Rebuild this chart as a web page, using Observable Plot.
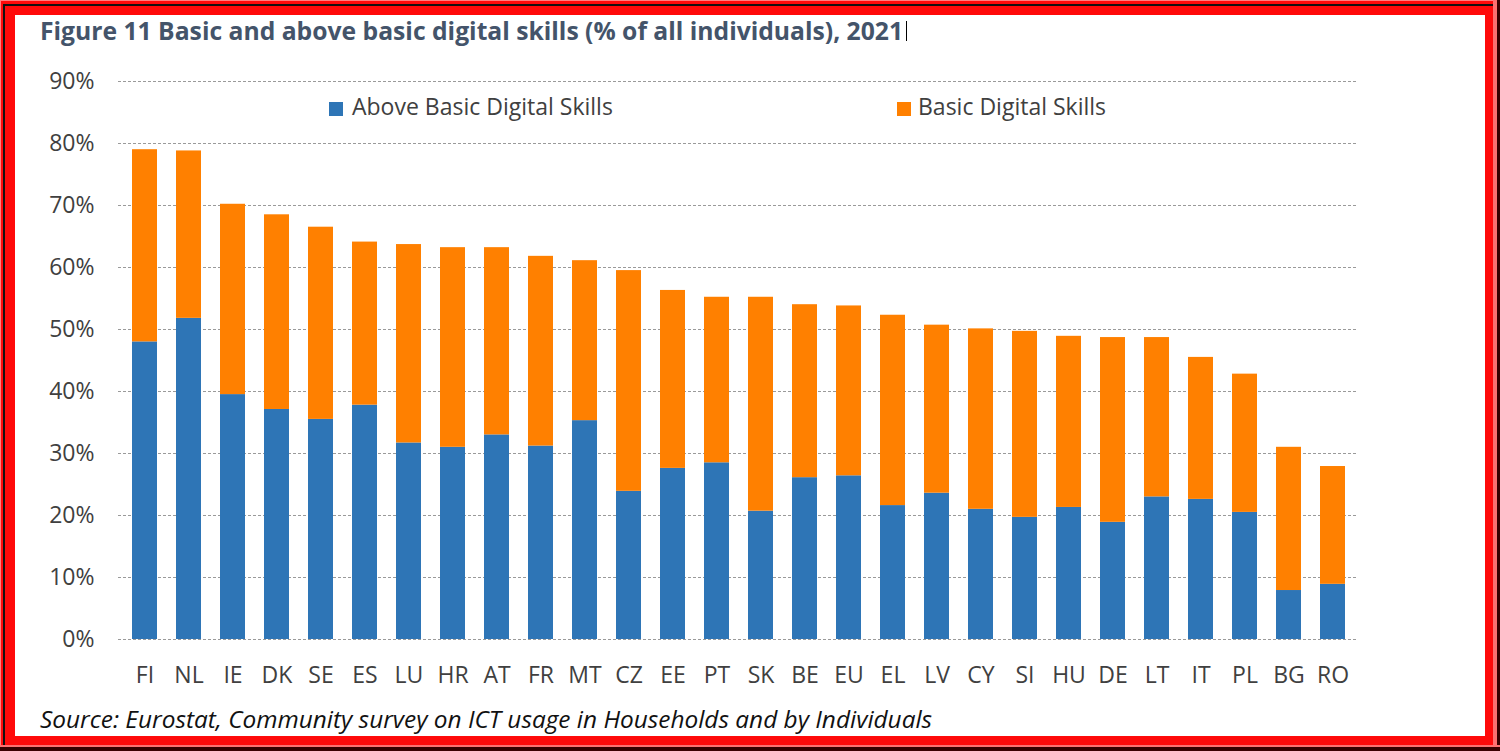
<!DOCTYPE html>
<html>
<head>
<meta charset="utf-8">
<script src="https://cdn.jsdelivr.net/npm/d3@7"></script>
<script src="https://cdn.jsdelivr.net/npm/@observablehq/plot@0.6"></script>
<style>
  html, body { margin: 0; padding: 0; background: #fff; }
  #frame { position: relative; width: 1500px; height: 751px; background: #ff0a0a; overflow: hidden; }
  .ln { position: absolute; }
  #inner { position: absolute; left: 15px; top: 15px; width: 1470px; height: 721px; background: #fff; overflow: hidden; }
  #title { position: absolute; left: 40px; top: 14px; font-family: "Open Sans", sans-serif; font-weight: 700; font-size: 24.7px; color: #44546a; white-space: nowrap; }
  #cursor { position: absolute; left: 906px; top: 21px; width: 1px; height: 20px; background: #000; }
  #source { position: absolute; left: 25px; top: 692px; line-height: 1; font-family: "Open Sans", sans-serif; font-style: italic; font-size: 24.4px; color: #111; white-space: nowrap; }
  #chart { position: absolute; left: -15px; top: 45px; width: 1500px; }
  .leg { position: absolute; line-height: 1; font-family: "Open Sans", sans-serif; font-size: 23px; color: #404040; white-space: nowrap; }
  .sw { position: absolute; width: 14px; height: 14px; }
</style>
</head>
<body>
<div id="frame">
  <div class="ln" style="left:0;top:0;width:1500px;height:1px;background:#ff8080"></div>
  <div class="ln" style="left:0;top:0;width:1px;height:751px;background:#ff8080"></div>
  <div class="ln" style="left:3px;top:4px;width:1491px;height:2px;background:#111"></div>
  <div class="ln" style="left:3px;top:4px;width:2px;height:744px;background:#111"></div>
  <div class="ln" style="left:1493px;top:0;width:4px;height:751px;background:#ff7070"></div>
  <div class="ln" style="left:1497px;top:0;width:3px;height:751px;background:#3a0000"></div>
  <div class="ln" style="left:0;top:745px;width:1500px;height:2px;background:#ff7070"></div>
  <div class="ln" style="left:0;top:747px;width:1500px;height:4px;background:#3a0000"></div>
  <div id="inner">
    <div id="chart"></div>
    <div class="sw" style="left:314px;top:87px;background:#2e75b6"></div>
    <div class="leg" style="left:337px;top:80px">Above Basic Digital Skills</div>
    <div class="sw" style="left:882px;top:87px;background:#ff8000"></div>
    <div class="leg" style="left:903px;top:80px">Basic Digital Skills</div>
    <div id="source">Source: Eurostat, Community survey on ICT usage in Households and by Individuals</div>
  </div>
  <div id="title">Figure 11 Basic and above basic digital skills (% of all individuals), 2021</div>
  <div id="cursor"></div>
</div>
<script>
const countryList = ["FI","NL","IE","DK","SE","ES","LU","HR","AT","FR","MT","CZ","EE","PT","SK","BE","EU","EL","LV","CY","SI","HU","DE","LT","IT","PL","BG","RO"];
const aboveBasic = [48.0,51.8,39.5,37.1,35.5,37.8,31.7,31.0,33.0,31.2,35.3,23.9,27.6,28.5,20.7,26.1,26.4,21.6,23.6,21.0,19.7,21.3,18.9,23.0,22.6,20.5,7.9,8.9];
const basic = [31.0,27.0,30.7,31.4,31.0,26.3,32.0,32.2,30.2,30.6,25.8,35.6,28.7,26.7,34.5,27.9,27.4,30.7,27.1,29.1,30.0,27.6,29.8,25.7,22.9,22.3,23.1,19.0];
const seriesNames = ["Above Basic Digital Skills","Basic Digital Skills"];
const seriesColors = ["#2e75b6","#ff8000"];
const yTicks = [0,10,20,30,40,50,60,70,80,90];

const data = [];
countryList.forEach((c, i) => {
  data.push({country: c, series: seriesNames[0], value: aboveBasic[i]});
  data.push({country: c, series: seriesNames[1], value: basic[i]});
});

const chart = Plot.plot({
  width: 1500,
  height: 640,
  marginLeft: 118,
  marginRight: 142,
  marginTop: 21,
  marginBottom: 61,
  style: {fontFamily: "'Open Sans', sans-serif", color: "#404040", background: "transparent", overflow: "visible", maxWidth: "none"},
  x: {domain: countryList, paddingInner: 0.435, paddingOuter: 0.226, label: null},
  y: {domain: [0, 90], label: null},
  color: {domain: seriesNames, range: seriesColors},
  marks: [
    Plot.ruleY(yTicks, {stroke: "#9a9a9a", strokeWidth: 1, strokeDasharray: "3,2"}),
    Plot.barY(data, Plot.stackY({x: "country", y: "value", fill: "series", order: seriesNames})),
    Plot.axisY({ticks: yTicks, tickSize: 0, tickPadding: 24, fontSize: 23, tickFormat: d => d + "%", label: null}),
    Plot.axisX({tickSize: 0, tickPadding: 27, fontSize: 23, label: null})
  ]
});
document.getElementById("chart").appendChild(chart);
</script>
</body>
</html>
